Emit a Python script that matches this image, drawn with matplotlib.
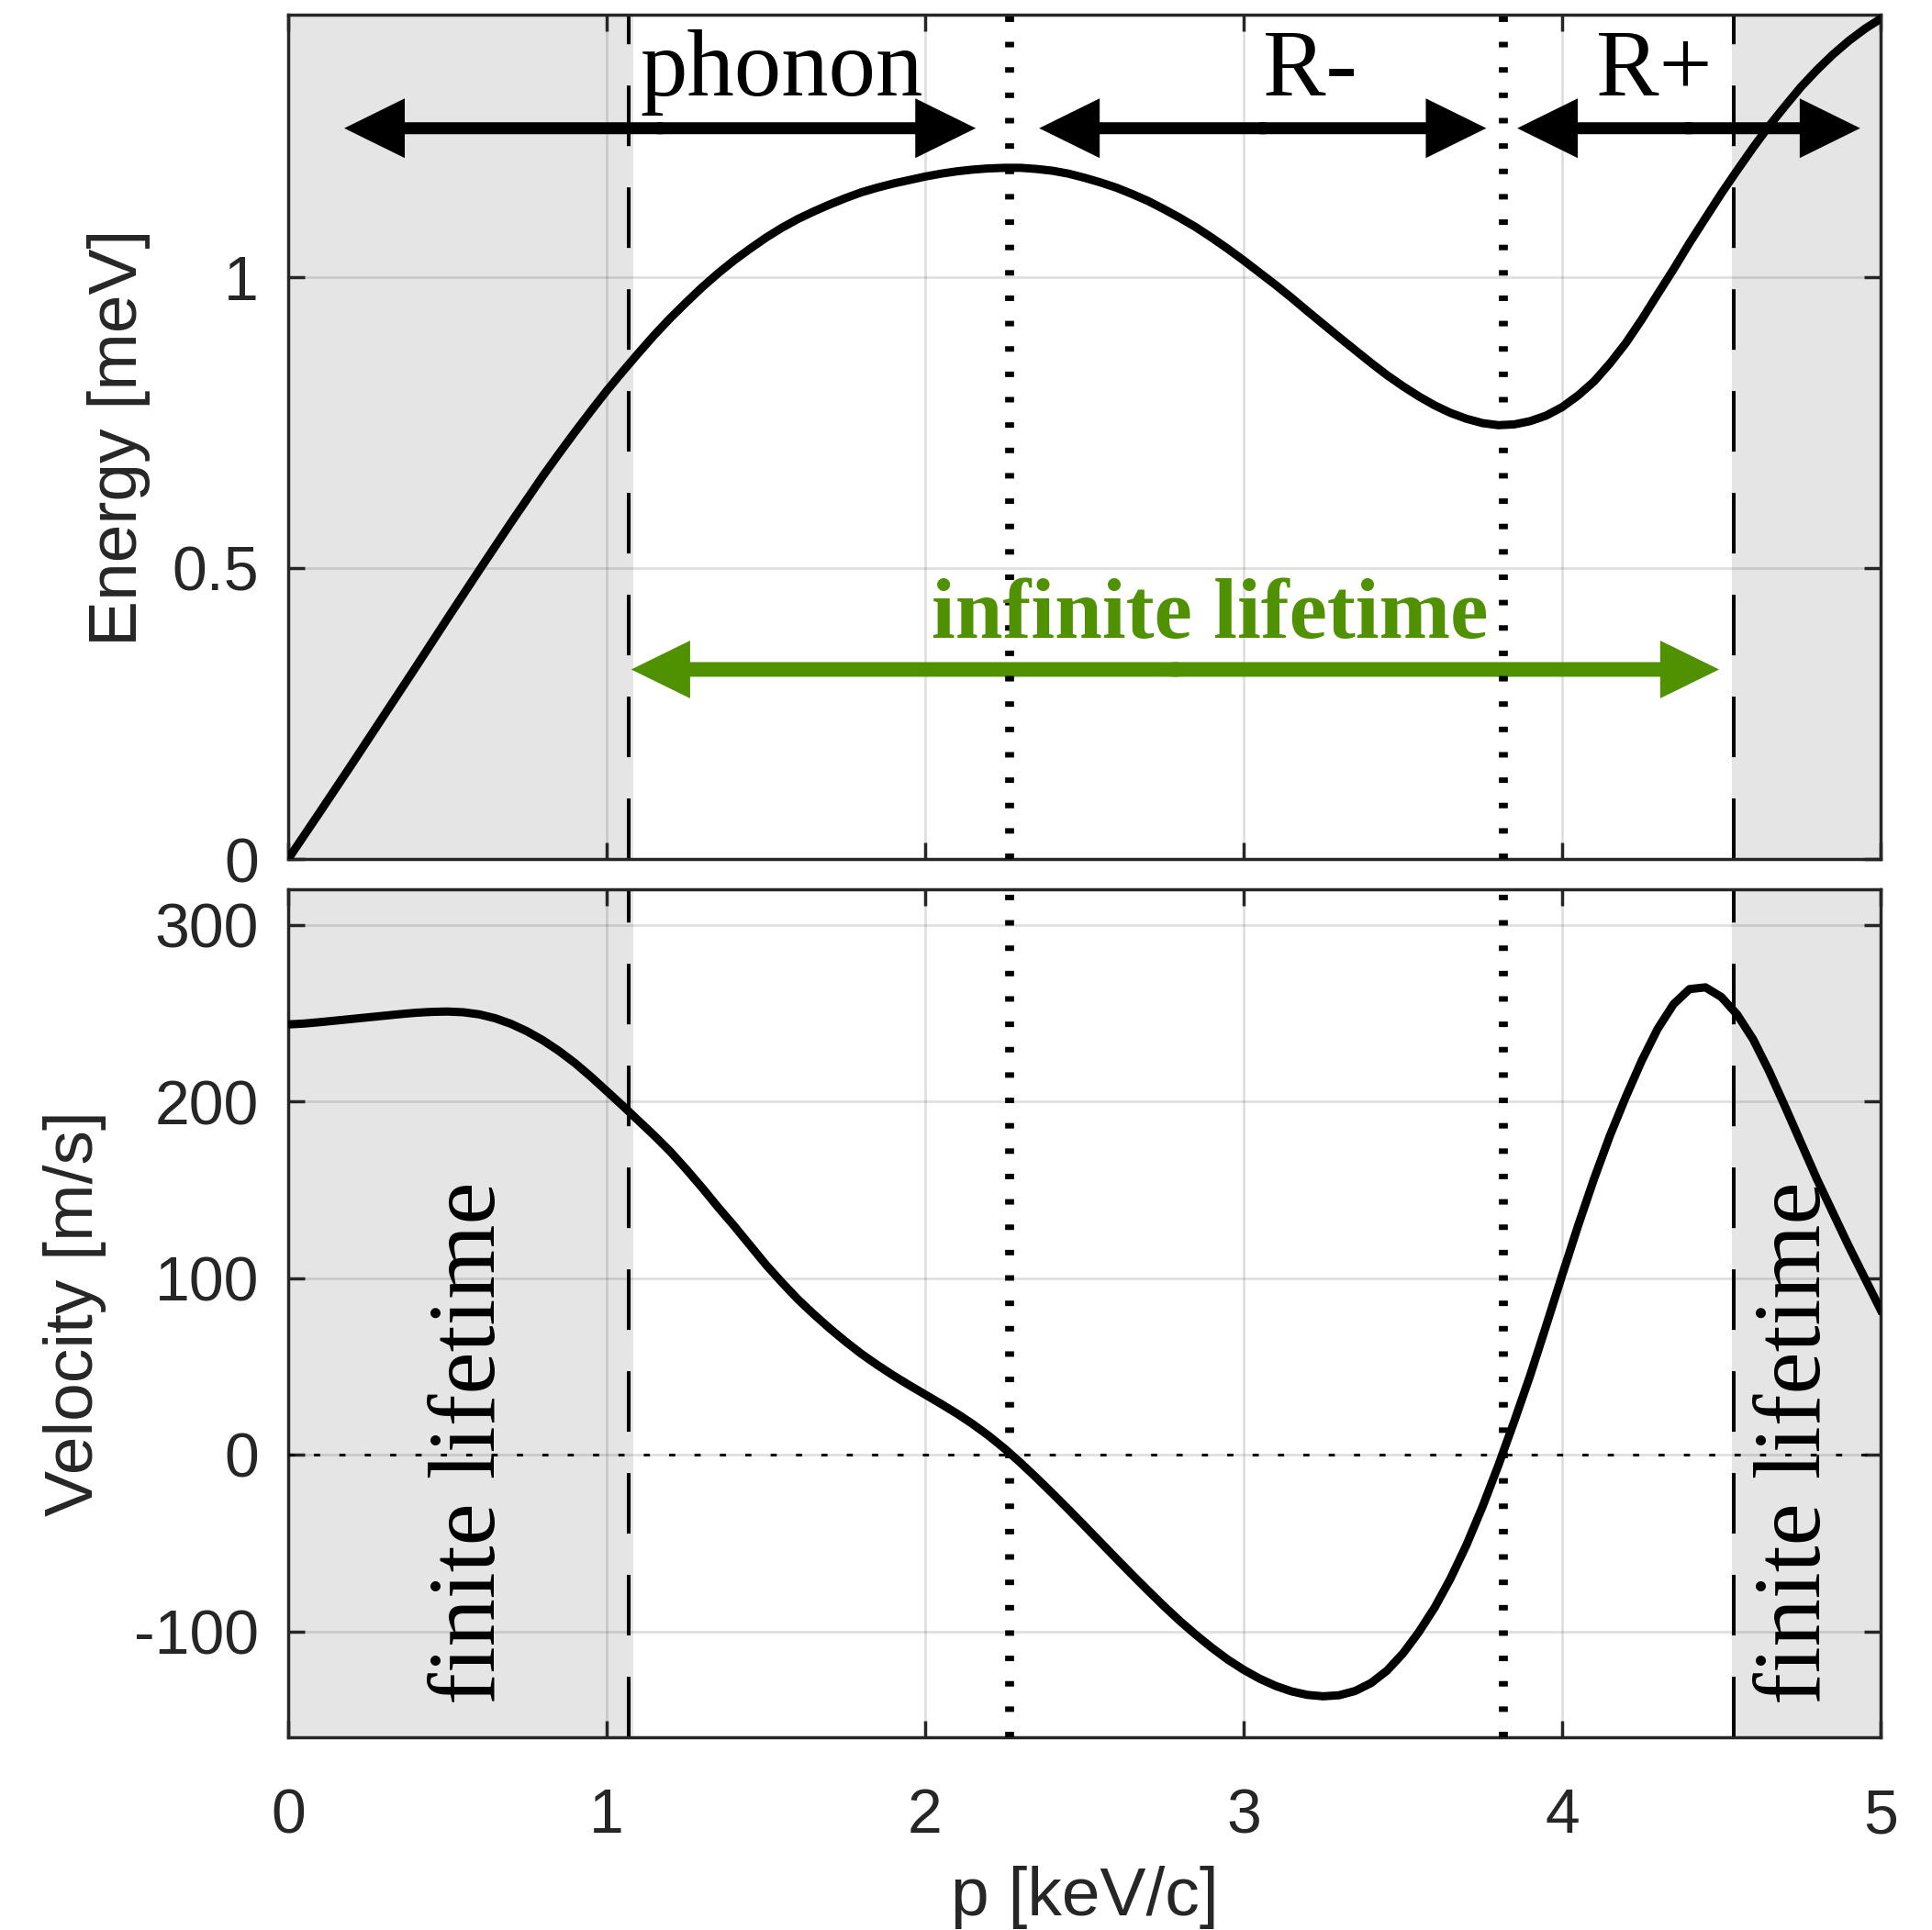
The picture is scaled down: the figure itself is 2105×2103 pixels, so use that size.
import numpy as np
import matplotlib
matplotlib.use("Agg")
import matplotlib.pyplot as plt
from matplotlib.patches import FancyArrow

plt.rcParams['axes.unicode_minus'] = False
plt.rcParams['lines.scale_dashes'] = False
plt.rcParams['font.family'] = ['Liberation Sans', 'DejaVu Sans']

# ---------------- data ----------------
# momentum sample grid [keV/c]
p_energy = np.linspace(0.0, 5.0, 101)
energy = [  # meV
    0.000, 0.0405, 0.081, 0.122, 0.163, 0.2045, 0.246, 0.2875, 0.329, 0.371,
    0.413, 0.4545, 0.496, 0.537, 0.578, 0.618, 0.658, 0.696, 0.733, 0.769,
    0.804, 0.837, 0.869, 0.900, 0.929, 0.956, 0.982, 1.006, 1.028, 1.048,
    1.067, 1.084, 1.099, 1.112, 1.124, 1.135, 1.145, 1.153, 1.160, 1.166,
    1.172, 1.177, 1.181, 1.184, 1.186, 1.187, 1.187, 1.185, 1.182, 1.177,
    1.170, 1.162, 1.153, 1.142, 1.130, 1.116, 1.101, 1.085, 1.067, 1.048,
    1.028, 1.007, 0.986, 0.964, 0.941, 0.9185, 0.896, 0.874, 0.852, 0.831,
    0.812, 0.7945, 0.779, 0.766, 0.756, 0.7486, 0.745, 0.7464, 0.752, 0.7615,
    0.776, 0.796, 0.820, 0.851, 0.886, 0.9265, 0.970, 1.013, 1.058, 1.1006,
    1.143, 1.183, 1.222, 1.259, 1.293, 1.326, 1.355, 1.3815, 1.405, 1.4255,
    1.443]

p_velocity = np.linspace(0.0, 5.0, 101)
velocity = [  # m/s
    243.5, 244.0, 244.8, 245.7, 246.6, 247.5, 248.4, 249.3, 250.1, 250.6,
    250.8, 250.4, 249.2, 247.0, 243.8, 239.6, 234.5, 228.5, 221.7, 214.0,
    205.8, 197.5, 189.0, 180.5, 171.5, 161.5, 151.0, 140.0, 129.5, 118.5,
    107.5, 97.5, 88.0, 79.5, 71.5, 64.0, 57.0, 50.7, 44.8, 39.3,
    34.0, 28.7, 23.2, 17.2, 10.6, 3.3, -4.7, -13.2, -22.0, -31.0,
    -40.2, -49.5, -58.8, -68.0, -77.0, -85.8, -94.2, -102.0, -109.3, -116.0,
    -121.8, -126.8, -130.9, -134.0, -136.0, -136.8, -136.2, -133.8, -129.3, -122.3,
    -112.6, -100.5, -86.5, -70.0, -51.0, -29.5, -6.0, 19.0, 45.0, 73.0,
    101.5, 129.5, 156.0, 180.5, 202.5, 223.0, 241.0, 255.0, 263.5, 264.5,
    259.0, 249.0, 235.0, 217.0, 197.0, 176.5, 156.0, 137.0, 118.0, 100.0,
    82.0]

# region boundaries [keV/c]
p_finite_left = 1.07
p_finite_right = 4.538
shade_left_end = 1.085
shade_right_start = 4.532
p_maxon = 2.265
p_roton = 3.816

# annotation arrows: (start, end) in p, and label text
region_arrows = [(0.176, 2.159), (2.358, 3.762), (3.859, 4.936)]
region_labels = ["phonon", "R-", "R+"]
region_label_x = [1.55, 3.208, 4.288]
infinite_arrow = (1.077, 4.493)

x_ticks = [0, 1, 2, 3, 4, 5]
e_ticks = [0, 0.5, 1]
e_ticklabels = ['0', '0.5', '1']
v_ticks = [-200, -100, 0, 100, 200, 300]
v_ticklabels = ['-200', '-100', '0', '100', '200', '300']

# ---------------- styling ----------------
W, H = 2105, 2103
AX_COL = (0.15, 0.15, 0.15)
SHADE = '#e5e5e5'
GREEN = '#4f9100'
SERIF = ['Liberation Serif', 'DejaVu Serif']

fig = plt.figure(figsize=(W / 100, H / 100), dpi=100)
ax1 = fig.add_axes([314 / W, 1 - 936 / H, 1735 / W, 920 / H])
ax2 = fig.add_axes([314 / W, 1 - 1893 / H, 1735 / W, 924 / H])

for ax in (ax1, ax2):
    ax.set_xticks(x_ticks)
    ax.set_xticklabels([str(t) for t in x_ticks])
    ax.set_xlim(0, 5)
    for s in ax.spines.values():
        s.set_color(AX_COL)
        s.set_linewidth(2.5)
    ax.tick_params(direction='in', length=13, width=2.5, color=AX_COL,
                   labelcolor=AX_COL, labelsize=49, top=True, right=True)
    ax.tick_params(axis='y', pad=23)
    ax.tick_params(axis='x', pad=39)
    ax.grid(True, color=AX_COL, alpha=0.15, lw=1.9)
    ax.set_axisbelow(True)
    ax.axvspan(0, shade_left_end, color=SHADE, lw=0, zorder=0.1)
    ax.axvspan(shade_right_start, 5, color=SHADE, lw=0, zorder=0.1)
    for pv in (p_finite_left, p_finite_right):
        ax.axvline(pv, color='k', lw=2.9, linestyle=(0, (47.5, 32.4)), zorder=2.5)
    for pv in (p_maxon, p_roton):
        ax.axvline(pv, color='k', lw=7.0, linestyle=(0, (4.3, 15.6)),
                   dash_capstyle='butt', zorder=6)

ax1.set_yticks(e_ticks)
ax1.set_yticklabels(e_ticklabels)
ax1.set_ylim(0, 1.45)
ax1.tick_params(labelbottom=False)

ax2.set_yticks(v_ticks)
ax2.set_yticklabels(v_ticklabels)
ax2.set_ylim(-160, 320)

ax1.plot(p_energy, energy, color='k', lw=6.5, zorder=3, solid_joinstyle='round')
ax2.plot(p_velocity, velocity, color='k', lw=6.5, zorder=3, solid_joinstyle='round')
ax2.axhline(0, color='k', lw=2.2, linestyle=(0, (4.8, 15.1)), zorder=2.6)


def double_arrow(ax, x0, x1, y, shaft, head_w, head_l, color):
    xm = (x0 + x1) / 2
    for start, end in ((xm - 0.01, x1), (xm + 0.01, x0)):
        ax.add_patch(FancyArrow(start, y, end - start, 0, width=shaft,
                                head_width=head_w, head_length=head_l,
                                length_includes_head=True, color=color,
                                lw=0, zorder=5))


for (a, b) in region_arrows:
    double_arrow(ax1, a, b, 1.255, 0.0205, 0.1024, 0.19, 'k')
double_arrow(ax1, infinite_arrow[0], infinite_arrow[1], 0.3255, 0.0252, 0.0992, 0.185, GREEN)

for lab, xc in zip(region_labels, region_label_x):
    ax1.text(xc, 1.311, lab, ha='center', va='baseline', fontsize=74,
             family=SERIF, color='k', zorder=7)
ax1.text(2.895, 0.38, 'infinite lifetime', ha='center', va='baseline',
         fontsize=67, family=SERIF, fontweight='bold', color=GREEN, zorder=7)

for xp in (0.647, 4.811):
    ax2.text(xp, -141.5, 'finite lifetime', rotation=90, rotation_mode='anchor',
             ha='left', va='baseline', fontsize=75, family=SERIF, color='k', zorder=4)

fig.text(129 / W, 1 - 477 / H, 'Energy [meV]', rotation=90, ha='center', va='center',
         fontsize=54, color=AX_COL)
fig.text(82 / W, 1 - 1431 / H, 'Velocity [m/s]', rotation=90, ha='center', va='center',
         fontsize=54, color=AX_COL)
fig.text(1181.5 / W, 1 - 2067 / H, 'p [keV/c]', ha='center', va='center',
         fontsize=54, color=AX_COL)

fig.savefig('out.png', dpi=100)
